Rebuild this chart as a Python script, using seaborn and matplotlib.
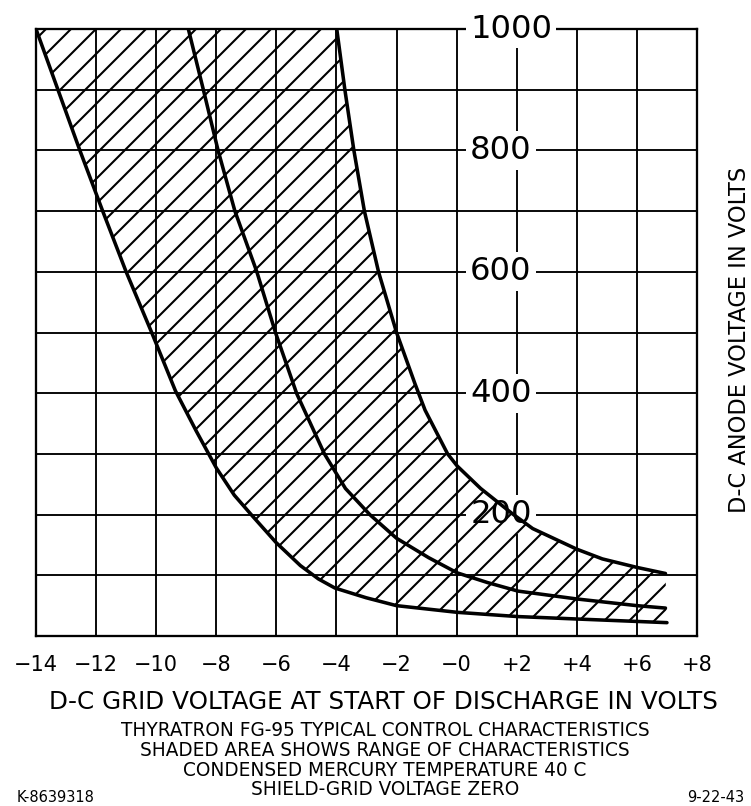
import matplotlib
matplotlib.use("Agg")
import matplotlib.pyplot as plt
import seaborn as sns
import numpy as np
import pandas as pd

# ---- data ----
x_ticks = [-14, -12, -10, -8, -6, -4, -2, 0, 2, 4, 6, 8]
x_tick_labels = ["\u221214", "\u221212", "\u221210", "\u22128", "\u22126", "\u22124",
                 "\u22122", "\u22120", "+2", "+4", "+6", "+8"]
y_label_values = [1000, 800, 600, 400, 200]

# lower limit curve (left)
left_x = [-14, -13.27, -12.54, -11.78, -11.0, -10.15, -9.36, -8.67, -8.0, -7.40,
          -6.82, -6.01, -5.20, -4.6, -4.05, -3.01, -2.0, 0.02, 2.04, 4.0, 6.0, 7.0]
left_y = [1000, 900, 800, 700, 600, 500, 404, 338, 277, 232,
          199, 154, 116, 94, 79, 63, 50, 39, 32, 28, 24, 22]

# typical curve (middle)
mid_x = [-8.93, -8.43, -7.94, -7.38, -6.65, -6.03, -5.32, -4.40, -3.7, -2.89,
         -2.0, -0.93, 0.02, 1.03, 2.04, 4.0, 6.0, 6.95]
mid_y = [1000, 900, 800, 700, 600, 500, 399, 300, 243, 200,
         161, 129, 104, 88, 74, 61, 50, 46]

# upper limit curve (right)
right_x = [-3.99, -3.72, -3.42, -3.07, -2.6, -2.0, -1.39, -1.05, -0.3, 0.02,
           0.80, 1.84, 2.53, 4.0, 4.85, 6.0, 6.95]
right_y = [1000, 900, 800, 700, 600, 500, 416, 372, 300, 280,
           243, 202, 177, 143, 127, 113, 103]

caption_lines = [
    "THYRATRON FG-95 TYPICAL CONTROL CHARACTERISTICS",
    "SHADED AREA SHOWS RANGE OF CHARACTERISTICS",
    "CONDENSED MERCURY TEMPERATURE 40 C",
    "SHIELD-GRID VOLTAGE ZERO",
]

# ---- style ----
sns.set_theme(style="white")
plt.rcParams["font.family"] = ["DejaVu Sans"]
plt.rcParams["hatch.linewidth"] = 1.0
plt.rcParams["hatch.color"] = "black"

DPI = 150
W, H = 751, 806
fig = plt.figure(figsize=(W / DPI, H / DPI), dpi=DPI)
fig.patch.set_facecolor("white")
L, R, T, B = 36, 697, 29, 636
ax = fig.add_axes([L / W, (H - B) / H, (R - L) / W, (B - T) / H])
ax.set_facecolor("white")

# hatched range between lower and upper curves
poly_x = np.r_[left_x, right_x[::-1]]
poly_y = np.r_[left_y, right_y[::-1]]
ax.fill(poly_x, poly_y, facecolor="none", edgecolor="black", hatch="//",
        linewidth=0, zorder=3)

curves = pd.concat([
    pd.DataFrame({"x": left_x, "y": left_y, "curve": "lower"}),
    pd.DataFrame({"x": mid_x, "y": mid_y, "curve": "typical"}),
    pd.DataFrame({"x": right_x, "y": right_y, "curve": "upper"}),
])
sns.lineplot(data=curves, x="x", y="y", units="curve", estimator=None,
             color="black", linewidth=1.7, ax=ax, zorder=4, legend=False)
for ln in ax.lines:
    ln.set_solid_joinstyle("round")
    ln.set_solid_capstyle("round")

ax.set_xlim(-14, 8)
ax.set_ylim(0, 1000)
ax.set_xticks(x_ticks)
ax.set_xticklabels(x_tick_labels, fontsize=10, color="black")
ax.set_yticks(range(0, 1001, 100))
ax.set_yticklabels([])
ax.tick_params(axis="both", length=0)
ax.tick_params(axis="x", pad=9)
ax.set_axisbelow(True)
ax.grid(True, color="black", linewidth=0.9)
for s in ax.spines.values():
    s.set_visible(True)
    s.set_color("black")
    s.set_linewidth(1.1)
    s.set_zorder(2)

# anode voltage labels inside the grid
for v in y_label_values:
    ax.text(0.45, v, str(v), fontsize=15.5, ha="left", va="center",
            color="black", zorder=2.6,
            bbox=dict(boxstyle="square,pad=0.12", facecolor="white",
                      edgecolor="none"))

ax.set_xlabel("D-C GRID VOLTAGE AT START OF DISCHARGE IN VOLTS",
              fontsize=11.8, color="black")
ax.xaxis.label.set_va("center")
ax.xaxis.set_label_coords((383 - L) / (R - L), (B - 702) / (B - T))

ax.yaxis.set_label_position("right")
ax.set_ylabel("D-C ANODE VOLTAGE IN VOLTS", fontsize=10.8, color="black",
              rotation=90)
ax.yaxis.label.set_va("center")
ax.yaxis.set_label_coords((739 - L) / (R - L), (B - 340) / (B - T))

for i, line in enumerate(caption_lines):
    fig.text(385 / W, 1 - (731 + 19.5 * i) / H, line, fontsize=8.9,
             ha="center", va="center", color="black")

fig.text(17 / W, 1 - 797 / H, "K-8639318", fontsize=7, ha="left",
         va="center", color="black")
fig.text(744 / W, 1 - 797 / H, "9-22-43", fontsize=7, ha="right",
         va="center", color="black")

fig.savefig("out.png", dpi=DPI, facecolor="white")
